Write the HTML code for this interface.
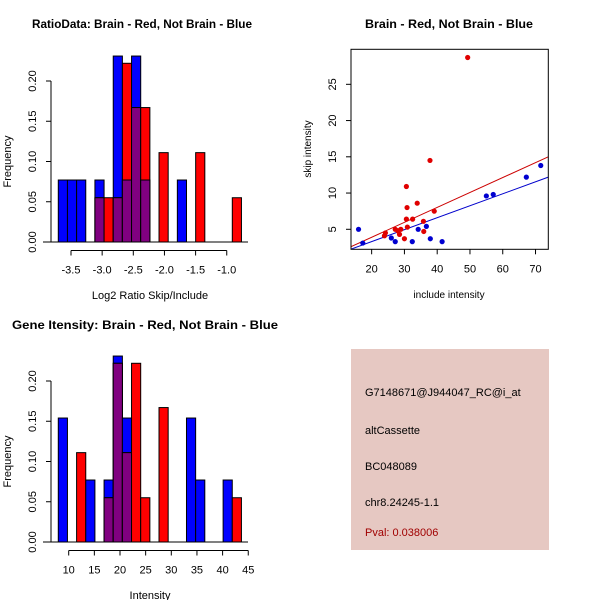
<!DOCTYPE html>
<html><head><meta charset="utf-8">
<style>
html,body{margin:0;padding:0;background:#fff;}
svg{display:block;font-family:"Liberation Sans",sans-serif;}
</style></head>
<body>
<svg id="c" width="600" height="600" xmlns="http://www.w3.org/2000/svg">
<rect x="0" y="0" width="600" height="600" fill="#fff"/>
<text x="142" y="28" font-size="12" font-weight="bold" text-anchor="middle" textLength="220" lengthAdjust="spacingAndGlyphs">RatioData: Brain - Red, Not Brain - Blue</text>
<text x="449" y="28" font-size="12" font-weight="bold" text-anchor="middle" textLength="168" lengthAdjust="spacingAndGlyphs">Brain - Red, Not Brain - Blue</text>
<text x="145" y="329" font-size="12" font-weight="bold" text-anchor="middle" textLength="266" lengthAdjust="spacingAndGlyphs">Gene Itensity: Brain - Red, Not Brain - Blue</text>
<rect x="351" y="349" width="198" height="201" fill="#e6c8c2"/>
<g font-size="11">
<text x="365" y="396">G7148671@J944047_RC@i_at</text>
<text x="365" y="434">altCassette</text>
<text x="365" y="470">BC048089</text>
<text x="365" y="506">chr8.24245-1.1</text>
<text x="365" y="536" fill="#a00000">Pval: 0.038006</text>
</g>
</svg>
<script>
// ---- Ratio histogram data (bin index -> frequency)
const ratioBinStart = -3.704;
const ratioBinWidth = 0.147;
const ratioBlue = [0.077,0.077,0.077,0,0.077,0,0.231,0.077,0.231,0.077,0,0,0,0.077,0,0,0,0,0,0];
const ratioRed  = [0,0,0,0,0.055,0.055,0.055,0.222,0.167,0.167,0,0.111,0,0,0,0.111,0,0,0,0.055];
const ratioTicks = [-3.5,-3.0,-2.5,-2.0,-1.5,-1.0];
const ratioTickLabels = ["-3.5","-3.0","-2.5","-2.0","-1.5","-1.0"];
// ---- Intensity histogram data
const intBinStart = 7.97;
const intBinWidth = 1.785;
const intBlue = [0.154,0,0,0.077,0,0.077,0.231,0.154,0,0,0,0,0,0,0.154,0.077,0,0,0.077,0];
const intRed  = [0,0,0.111,0,0,0.055,0.222,0.111,0.222,0.055,0,0.167,0,0,0,0,0,0,0,0.055];
const intTicks = [10,15,20,25,30,35,40,45];
const freqTicks = [0,0.05,0.10,0.15,0.20];
const freqTickLabels = ["0.00","0.05","0.10","0.15","0.20"];
// ---- Scatter data
const redX = [49.3,37.8,30.6,30.8,33.9,39.1,30.6,32.5,35.8,30.9,35.9,27.2,28.9,28.5,30.0,24.2,23.9,28.0];
const redY = [28.7,14.5,10.9,8.0,8.6,7.5,6.4,6.4,6.1,5.3,4.7,5.0,5.0,4.3,3.7,4.5,4.1,4.8];
const blueX = [16.0,17.3,26.0,27.2,32.4,34.2,36.7,37.9,41.5,55.0,57.1,67.2,71.6];
const blueY = [5.0,3.1,3.8,3.3,3.3,5.0,5.4,3.7,3.3,9.6,9.8,12.2,13.8];
const redFit = [-0.22,0.206];
const blueFit = [0.0,0.165];
const scatXTicks = [20,30,40,50,60,70];
const scatYTicks = [5,10,15,20,25];

const NS="http://www.w3.org/2000/svg";
const svg=document.getElementById('c');
function mk(tag,attrs,parent){const e=document.createElementNS(NS,tag);for(const k in attrs)e.setAttribute(k,attrs[k]);(parent||svg).appendChild(e);return e;}

function histogram(cfg){
  const g=mk('g',{});
  
  
  const sx=v=>cfg.x0+(v-cfg.v0)*cfg.k;
  const sy=f=>cfg.yb-f*cfg.fk;
  const n=cfg.blue.length;
  for(let i=0;i<n;i++){
    const l=sx(cfg.start+i*cfg.width), w=cfg.width*cfg.k;
    const b=cfg.blue[i], r=cfg.red[i], m=Math.min(b,r);
    if(b>0){const e=mk('rect',{x:l,y:sy(b),width:w,height:sy(0)-sy(b),fill:'#0000ff',stroke:'#000','stroke-width':1},g);
      
      }
    if(r>0){const e=mk('rect',{x:l,y:sy(r),width:w,height:sy(0)-sy(r),fill:'#ff0000',stroke:'#000','stroke-width':1},g);
      
      }
    if(m>0){const e=mk('rect',{x:l,y:sy(m),width:w,height:sy(0)-sy(m),fill:'#800080',stroke:'#000','stroke-width':1},g);
      
      }
  }
  mk('line',{x1:43,y1:cfg.yb,x2:248,y2:cfg.yb,stroke:'#000'},g);
  const ya=mk('g',{},g);
  
  
  mk('line',{x1:51,y1:sy(0),x2:51,y2:sy(0.2),stroke:'#000'},ya);
  freqTicks.forEach((f,i)=>{
    mk('line',{x1:46,y1:sy(f),x2:51,y2:sy(f),stroke:'#000'},ya);
    const t=mk('text',{x:0,y:0,'font-size':11,'text-anchor':'middle',transform:`translate(36,${sy(f)}) rotate(-90)`},ya);
    t.textContent=freqTickLabels[i];
  });
  const yl=mk('text',{x:0,y:0,'font-size':11,'text-anchor':'middle',transform:`translate(11,${sy(0.1)}) rotate(-90)`},g);
  yl.textContent='Frequency';
  
  
  const xa=mk('g',{},g);
  
  
  const ay=cfg.yb+8.5;
  mk('line',{x1:sx(cfg.ticks[0]),y1:ay,x2:sx(cfg.ticks[cfg.ticks.length-1]),y2:ay,stroke:'#000'},xa);
  cfg.ticks.forEach((v,i)=>{
    mk('line',{x1:sx(v),y1:ay,x2:sx(v),y2:ay+5,stroke:'#000'},xa);
    const t=mk('text',{x:sx(v),y:ay+23,'font-size':11,'text-anchor':'middle'},xa);
    t.textContent=cfg.labels[i];
  });
  const xl=mk('text',{x:cfg.xlx,y:cfg.yb+57,'font-size':11,'text-anchor':'middle'},g);
  xl.textContent=cfg.xlabel;
  
  
}
histogram({name:'ratio-histogram',blue:ratioBlue,red:ratioRed,start:ratioBinStart,width:ratioBinWidth,
  x0:71,v0:-3.5,k:62.3,yb:242,fk:805,ticks:ratioTicks,labels:ratioTickLabels,xlabel:'Log2 Ratio Skip/Include',xlx:150});
histogram({name:'intensity-histogram',blue:intBlue,red:intRed,start:intBinStart,width:intBinWidth,
  x0:68.7,v0:10,k:5.13,yb:542,fk:805,ticks:intTicks,labels:intTicks.map(String),xlabel:'Intensity',xlx:150});

(function(){
  const g=mk('g',{});
  
  
  const L=351,R=548.3,T=49.3,B=249.3, xmin=13.7,xmax=73.9,ymin=2.24,ymax=29.83;
  const sx=v=>L+(v-xmin)/(xmax-xmin)*(R-L);
  const sy=v=>B-(v-ymin)/(ymax-ymin)*(B-T);
  const clip=mk('clipPath',{id:'sc'},g);mk('rect',{x:L,y:T,width:R-L,height:B-T},clip);
  [[blueFit,'#0000cc','blue-fit-line'],[redFit,'#cc0000','red-fit-line']].forEach(([f,c,n])=>{
    const l=mk('line',{x1:sx(xmin),y1:sy(f[0]+f[1]*xmin),x2:sx(xmax),y2:sy(f[0]+f[1]*xmax),stroke:c,'stroke-width':1,'clip-path':'url(#sc)'},g);
    
    
  });
  redX.forEach((x,i)=>{const p=mk('circle',{cx:sx(x),cy:sy(redY[i]),r:2.6,fill:'#e00000'},g);
    
    });
  blueX.forEach((x,i)=>{const p=mk('circle',{cx:sx(x),cy:sy(blueY[i]),r:2.6,fill:'#0000d0'},g);
    
    });
  mk('rect',{x:L,y:T,width:R-L,height:B-T,fill:'none',stroke:'#000'},g);
  scatXTicks.forEach(v=>{
    mk('line',{x1:sx(v),y1:B,x2:sx(v),y2:B+5,stroke:'#000'},g);
    const t=mk('text',{x:sx(v),y:B+23,'font-size':11,'text-anchor':'middle'},g);t.textContent=v;
  });
  scatYTicks.forEach(v=>{
    mk('line',{x1:L-5,y1:sy(v),x2:L,y2:sy(v),stroke:'#000'},g);
    const t=mk('text',{x:0,y:0,'font-size':11,'text-anchor':'middle',transform:`translate(336,${sy(v)}) rotate(-90)`},g);t.textContent=v;
  });
  const xl=mk('text',{x:449,y:298,'font-size':10,'text-anchor':'middle'},g);xl.textContent='include intensity';
  
  
  const yl=mk('text',{x:0,y:0,'font-size':10,'text-anchor':'middle',transform:`translate(311,149) rotate(-90)`},g);yl.textContent='skip intensity';
  
  
})();
</script>
</body></html>
